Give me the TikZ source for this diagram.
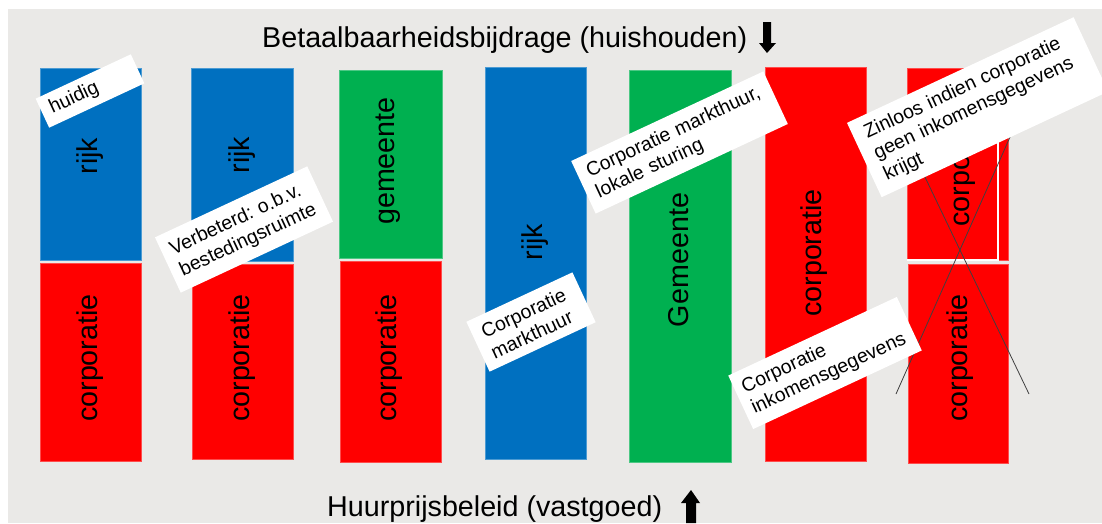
\documentclass[tikz,border=0pt]{standalone}
\usepackage{fontspec}
\setmainfont{Liberation Sans}
\frenchspacing
\definecolor{bg}{RGB}{234,233,231}
\definecolor{cblue}{RGB}{0,112,192}
\definecolor{cred}{RGB}{255,0,0}
\definecolor{cgreen}{RGB}{0,176,80}
\tikzset{
  bar/.style={draw=#1!70!white, line width=0.6pt, fill=#1},
  barlabel/.style={rotate=90, font=\fontsize{28.7}{34}\selectfont, inner sep=0pt},
  bigtext/.style={font=\fontsize{28.7}{34}\selectfont, inner sep=0pt},
  callout/.style={fill=white, rotate=25, align=left, inner xsep=10pt, inner ysep=0pt,
    font=\fontsize{19.5}{23}\selectfont\frenchspacing},
  xline/.style={draw=black!75, line width=0.8pt},
}
\begin{document}
\begin{tikzpicture}[x=1pt,y=-1pt]
\useasboundingbox (0,0) rectangle (1102,523);
\clip (0,0) rectangle (1102,523);
\fill[white] (0,0) rectangle (1102,523);
\fill[bg] (8,9) rectangle (1102,523);

% bars
\path[bar=cblue]  (40,68)  rectangle (141,260);
\path[bar=cred]   (40,263) rectangle (141,461);
\path[bar=cblue]  (191,68) rectangle (293,261);
\path[bar=cred]   (192,264) rectangle (293,459);
\path[bar=cgreen] (339,70) rectangle (442,258);
\path[bar=cred]   (340,261) rectangle (441,462);
\path[bar=cblue]  (485,67) rectangle (586,459);
\path[bar=cgreen] (629,70) rectangle (731,462);
\path[bar=cred]   (765,67) rectangle (866,461);
\path[bar=cred]   (907,68) rectangle (1008,260);
\path[bar=cred]   (908,264) rectangle (1008,463);

% bar labels
\node[barlabel] (l1a) at (90.5,156) {rijk};
\node[barlabel] (l1b) at (90,358) {corporatie};
\node[barlabel] (l2a) at (242,155) {rijk};
\node[barlabel] (l2b) at (242,358) {corporatie};
\node[barlabel] (l3a) at (388,161) {gemeente};
\node[barlabel] (l3b) at (389,358) {corporatie};
\node[barlabel] (l4) at (535.5,242) {rijk};
\node[barlabel] (l5) at (679,260) {Gemeente};
\node[barlabel] (l6) at (814,253) {corporatie};
\node[barlabel] (l7a) at (962,163) {corporatie};
\node[barlabel] (l7b) at (960,358) {corporatie};

% white outline and cross
\draw[white, line width=1.2pt] (998,130) -- (998,260) -- (907,260);
\coordinate (xa1) at (896,394);
\coordinate (xa2) at (1022,110);
\coordinate (xb1) at (1029,394);
\coordinate (xb2) at (912,150);
\draw[xline] (xa1) -- (xa2);
\draw[xline] (xb1) -- (xb2);

% callouts
\node[callout, inner xsep=9pt, text width=87pt, minimum height=32pt] (c1) at (90,91) {huidig};
\node[callout, inner xsep=9pt, text width=150pt, minimum height=61pt] (c2) at (244,229.5) {Verbeterd: o.b.v.\\bestedingsruimte};
\node[callout, text width=192pt, minimum height=58pt] (c3) at (679.5,142.5) {Corporatie markthuur,\\lokale sturing};
\node[callout, text width=97pt, minimum height=55pt] (c4) at (531,322) {Corporatie\\markthuur};
\node[callout, inner xsep=8pt, text width=170pt, minimum height=59pt] (c5) at (825,363) {Corporatie\\inkomensgegevens};
\node[callout, inner xsep=12pt, text width=226pt, minimum height=82pt] (c6) at (977.6,107.2) {Zinloos indien corporatie\\geen inkomensgegevens\\krijgt};

% titles
\node[bigtext, anchor=base west] (title) at (262,47) {Betaalbaarheidsbijdrage (huishouden)};
\fill (763,22) -- (771,22) -- (771,43) -- (776,43) -- (767,53) -- (759,43) -- (763,43) -- cycle;
\node[bigtext, anchor=base west] (sub) at (327,516) {Huurprijsbeleid (vastgoed)};
\fill (686,523) -- (696,523) -- (696,503) -- (700,503) -- (691,490) -- (681,503) -- (686,503) -- cycle;
\end{tikzpicture}
\end{document}
